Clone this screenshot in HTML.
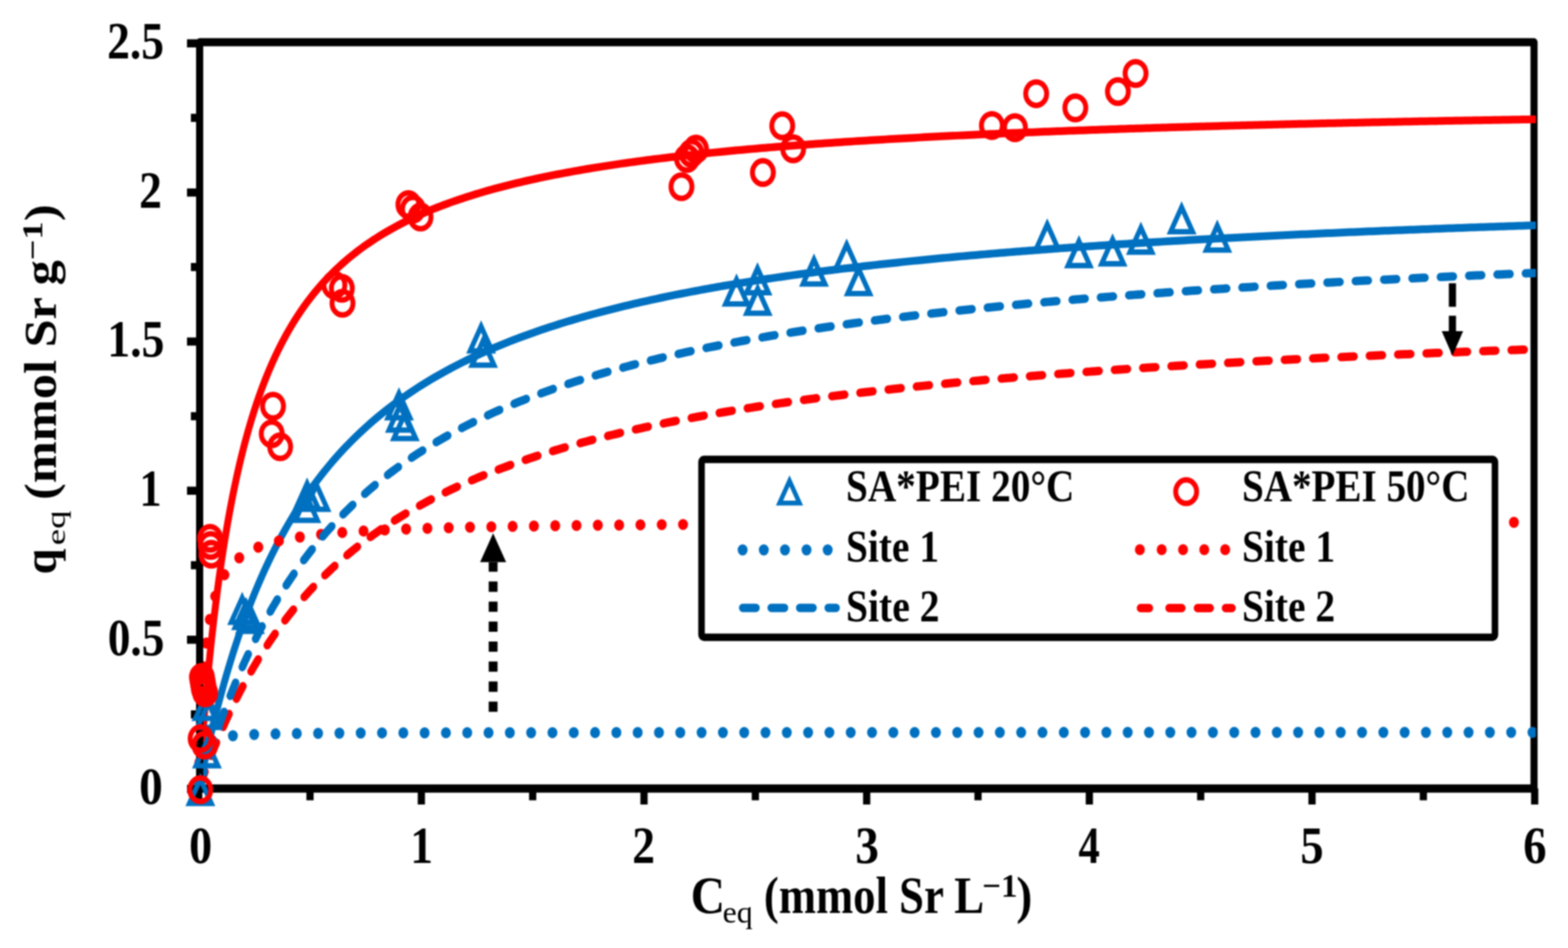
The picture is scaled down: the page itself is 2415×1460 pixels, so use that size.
<!DOCTYPE html>
<html><head><meta charset="utf-8"><title>Sr adsorption isotherm</title>
<style>html,body{margin:0;padding:0;background:#fff;overflow:hidden}svg{display:block;filter:blur(0.8px)}text{font-family:"Liberation Serif","Times New Roman",serif;fill:#000}</style></head><body>
<svg xmlns="http://www.w3.org/2000/svg" width="2415" height="1460" viewBox="0 0 2415 1460">
<rect x="0" y="0" width="2415" height="1460" fill="#fff"/>
<defs><clipPath id="pc"><rect x="0" y="0" width="2657.87" height="1460"/></clipPath></defs>
<g transform="scale(0.89,1)">
<path d="M345.51,65.00 L2654.72,65.00 L2654.72,1214.30 L345.51,1214.30 Z" fill="none" stroke="#000" stroke-width="12.3" stroke-linejoin="round"/>
<g clip-path="url(#pc)">
<path d="M 343.82,1215.00 344.01,1212.60 344.21,1210.18 344.40,1207.75 344.59,1205.33 344.78,1202.91 344.98,1200.49 345.17,1198.08 345.36,1195.68 345.55,1193.29 345.75,1190.91 345.94,1188.53 346.13,1186.16 346.32,1183.80 346.52,1181.45 346.71,1179.10 346.90,1176.77 347.10,1174.45 347.29,1172.13 347.48,1169.82 347.67,1167.53 347.87,1165.24 348.06,1162.96 348.25,1160.69 348.44,1158.42 348.64,1156.17 348.83,1153.93 349.02,1151.69 349.21,1149.47 349.41,1147.25 349.60,1145.04 349.79,1142.85 349.99,1140.66 350.18,1138.47 350.37,1136.30 350.56,1134.14 350.76,1131.99 350.95,1129.84 351.14,1127.70 351.33,1125.57 351.53,1123.45 352.30,1115.06 353.07,1106.80 353.84,1098.68 354.61,1090.68 355.38,1082.81 356.15,1075.07 356.92,1067.45 357.69,1059.95 358.46,1052.56 359.23,1045.29 360.00,1038.13 360.78,1031.08 361.55,1024.14 362.32,1017.31 363.09,1010.57 363.86,1003.94 364.63,997.41 365.40,990.97 366.17,984.63 366.94,978.38 367.71,972.22 368.48,966.15 369.25,960.16 370.02,954.27 370.79,948.45 371.56,942.72 372.34,937.06 373.11,931.49 373.88,925.99 374.65,920.56 375.42,915.21 376.19,909.94 376.96,904.73 377.73,899.59 378.50,894.52 379.27,889.52 380.04,884.58 380.81,879.71 381.58,874.90 382.35,870.15 383.12,865.47 383.90,860.84 384.67,856.27 385.44,851.76 386.21,847.30 386.98,842.90 387.75,838.56 388.52,834.27 389.29,830.03 390.06,825.84 390.83,821.70 391.60,817.61 392.37,813.57 393.14,809.58 393.91,805.63 394.68,801.73 395.46,797.88 396.23,794.07 397.00,790.31 397.77,786.59 398.54,782.91 399.31,779.27 400.08,775.67 400.85,772.12 401.62,768.60 402.39,765.12 403.16,761.68 403.93,758.28 404.70,754.91 405.47,751.59 406.24,748.29 407.02,745.04 407.79,741.82 408.56,738.63 409.33,735.47 410.10,732.35 410.87,729.26 411.64,726.21 412.41,723.18 413.18,720.19 413.95,717.23 414.72,714.30 415.49,711.39 416.26,708.52 417.03,705.68 417.80,702.86 418.58,700.07 419.35,697.31 420.12,694.58 420.89,691.87 421.66,689.19 422.43,686.54 423.20,683.91 423.97,681.31 424.74,678.73 425.51,676.18 426.28,673.65 427.05,671.14 427.82,668.66 428.59,666.20 429.37,663.77 430.14,661.36 430.91,658.97 431.68,656.60 432.45,654.25 433.22,651.93 433.99,649.62 434.76,647.34 435.53,645.08 436.30,642.83 437.07,640.61 437.84,638.41 438.61,636.22 439.38,634.06 440.15,631.91 440.93,629.79 441.70,627.68 442.47,625.59 443.24,623.52 444.01,621.46 444.78,619.43 445.55,617.41 446.32,615.41 447.09,613.42 447.86,611.45 448.63,609.50 449.40,607.57 450.17,605.65 450.94,603.74 451.71,601.85 452.49,599.98 453.26,598.12 454.03,596.28 454.80,594.45 455.57,592.64 456.34,590.84 457.11,589.06 457.88,587.29 458.65,585.54 459.42,583.79 464.93,571.75 470.43,560.34 475.94,549.53 481.44,539.27 486.95,529.52 492.45,520.24 497.96,511.40 503.46,502.97 508.96,494.92 514.47,487.22 519.97,479.86 525.48,472.81 530.98,466.05 536.49,459.56 541.99,453.34 547.50,447.35 553.00,441.60 558.51,436.06 564.01,430.73 569.52,425.59 575.02,420.64 580.53,415.85 586.03,411.23 591.54,406.77 597.04,402.46 602.55,398.29 608.05,394.25 613.56,390.34 619.06,386.55 624.57,382.88 630.07,379.32 635.58,375.87 641.08,372.52 646.59,369.26 652.09,366.10 657.59,363.02 663.10,360.04 668.60,357.13 674.11,354.30 679.61,351.55 685.12,348.87 690.62,346.26 696.13,343.72 701.63,341.24 707.14,338.83 712.64,336.47 718.15,334.17 723.65,331.93 729.16,329.74 734.66,327.60 740.17,325.51 745.67,323.47 751.18,321.47 756.68,319.52 762.19,317.62 767.69,315.75 773.20,313.93 778.70,312.15 784.21,310.40 789.71,308.69 795.22,307.02 800.72,305.38 806.22,303.77 811.73,302.20 817.23,300.66 822.74,299.15 828.24,297.67 833.75,296.22 839.25,294.79 844.76,293.39 850.26,292.02 855.77,290.68 861.27,289.36 866.78,288.06 872.28,286.79 877.79,285.54 883.29,284.32 888.80,283.11 894.30,281.93 899.81,280.76 905.31,279.62 910.82,278.50 916.32,277.39 921.83,276.31 927.33,275.24 932.84,274.19 938.34,273.16 943.85,272.14 949.35,271.14 954.85,270.16 960.36,269.19 965.86,268.24 971.37,267.30 976.87,266.38 982.38,265.47 987.88,264.58 993.39,263.70 998.89,262.83 1004.40,261.97 1009.90,261.13 1015.41,260.30 1020.91,259.48 1026.42,258.68 1031.92,257.89 1037.43,257.10 1042.93,256.33 1048.44,255.57 1053.94,254.82 1059.45,254.08 1064.95,253.35 1070.46,252.63 1075.96,251.92 1081.47,251.22 1086.97,250.53 1092.48,249.85 1097.98,249.18 1103.48,248.52 1108.99,247.86 1114.49,247.22 1120.00,246.58 1125.50,245.95 1131.01,245.33 1136.51,244.72 1142.02,244.11 1147.52,243.51 1153.03,242.92 1158.53,242.34 1164.04,241.76 1169.54,241.20 1175.05,240.63 1180.55,240.08 1186.06,239.53 1191.56,238.99 1197.07,238.45 1202.57,237.92 1208.08,237.40 1213.58,236.88 1219.09,236.37 1224.59,235.87 1230.10,235.37 1235.60,234.88 1241.11,234.39 1246.61,233.90 1252.11,233.43 1257.62,232.96 1263.12,232.49 1268.63,232.03 1274.13,231.57 1279.64,231.12 1285.14,230.67 1290.65,230.23 1296.15,229.80 1301.66,229.36 1307.16,228.94 1312.67,228.51 1318.17,228.10 1323.68,227.68 1329.18,227.27 1334.69,226.87 1340.19,226.46 1345.70,226.07 1351.20,225.67 1356.71,225.29 1362.21,224.90 1367.72,224.52 1373.22,224.14 1378.73,223.77 1384.23,223.40 1389.74,223.03 1395.24,222.67 1400.74,222.31 1406.25,221.95 1411.75,221.60 1417.26,221.25 1422.76,220.90 1428.27,220.56 1433.77,220.22 1439.28,219.89 1444.78,219.55 1450.29,219.22 1455.79,218.90 1461.30,218.57 1466.80,218.25 1472.31,217.94 1477.81,217.62 1483.32,217.31 1488.82,217.00 1494.33,216.69 1499.83,216.39 1505.34,216.09 1510.84,215.79 1516.35,215.50 1521.85,215.20 1527.36,214.91 1532.86,214.62 1538.37,214.34 1543.87,214.06 1549.37,213.78 1554.88,213.50 1560.38,213.22 1565.89,212.95 1571.39,212.68 1576.90,212.41 1582.40,212.14 1587.91,211.88 1593.41,211.62 1598.92,211.36 1604.42,211.10 1609.93,210.84 1615.43,210.59 1620.94,210.34 1626.44,210.09 1631.95,209.84 1637.45,209.60 1642.96,209.35 1648.46,209.11 1653.97,208.87 1659.47,208.63 1664.98,208.40 1670.48,208.17 1675.99,207.93 1681.49,207.70 1687.00,207.47 1692.50,207.25 1698.00,207.02 1703.51,206.80 1709.01,206.58 1714.52,206.36 1720.02,206.14 1725.53,205.92 1731.03,205.71 1736.54,205.50 1742.04,205.28 1747.55,205.07 1753.05,204.87 1758.56,204.66 1764.06,204.45 1769.57,204.25 1775.07,204.05 1780.58,203.85 1786.08,203.65 1791.59,203.45 1797.09,203.25 1802.60,203.06 1808.10,202.86 1813.61,202.67 1819.11,202.48 1824.62,202.29 1830.12,202.10 1835.63,201.92 1841.13,201.73 1846.63,201.55 1852.14,201.36 1857.64,201.18 1863.15,201.00 1868.65,200.82 1874.16,200.64 1879.66,200.47 1885.17,200.29 1890.67,200.12 1896.18,199.94 1901.68,199.77 1907.19,199.60 1912.69,199.43 1918.20,199.26 1923.70,199.10 1929.21,198.93 1934.71,198.76 1940.22,198.60 1945.72,198.44 1951.23,198.28 1956.73,198.11 1962.24,197.95 1967.74,197.80 1973.25,197.64 1978.75,197.48 1984.26,197.33 1989.76,197.17 1995.26,197.02 2000.77,196.86 2006.27,196.71 2011.78,196.56 2017.28,196.41 2022.79,196.26 2028.29,196.11 2033.80,195.97 2039.30,195.82 2044.81,195.68 2050.31,195.53 2055.82,195.39 2061.32,195.25 2066.83,195.10 2072.33,194.96 2077.84,194.82 2083.34,194.68 2088.85,194.55 2094.35,194.41 2099.86,194.27 2105.36,194.14 2110.87,194.00 2116.37,193.87 2121.88,193.73 2127.38,193.60 2132.89,193.47 2138.39,193.34 2143.89,193.21 2149.40,193.08 2154.90,192.95 2160.41,192.82 2165.91,192.69 2171.42,192.57 2176.92,192.44 2182.43,192.32 2187.93,192.19 2193.44,192.07 2198.94,191.95 2204.45,191.82 2209.95,191.70 2215.46,191.58 2220.96,191.46 2226.47,191.34 2231.97,191.22 2237.48,191.11 2242.98,190.99 2248.49,190.87 2253.99,190.76 2259.50,190.64 2265.00,190.52 2270.51,190.41 2276.01,190.30 2281.52,190.18 2287.02,190.07 2292.52,189.96 2298.03,189.85 2303.53,189.74 2309.04,189.63 2314.54,189.52 2320.05,189.41 2325.55,189.30 2331.06,189.19 2336.56,189.09 2342.07,188.98 2347.57,188.88 2353.08,188.77 2358.58,188.67 2364.09,188.56 2369.59,188.46 2375.10,188.35 2380.60,188.25 2386.11,188.15 2391.61,188.05 2397.12,187.95 2402.62,187.85 2408.13,187.75 2413.63,187.65 2419.14,187.55 2424.64,187.45 2430.15,187.35 2435.65,187.26 2441.15,187.16 2446.66,187.06 2452.16,186.97 2457.67,186.87 2463.17,186.78 2468.68,186.68 2474.18,186.59 2479.69,186.49 2485.19,186.40 2490.70,186.31 2496.20,186.22 2501.71,186.12 2507.21,186.03 2512.72,185.94 2518.22,185.85 2523.73,185.76 2529.23,185.67 2534.74,185.58 2540.24,185.50 2545.75,185.41 2551.25,185.32 2556.76,185.23 2562.26,185.15 2567.77,185.06 2573.27,184.97 2578.78,184.89 2584.28,184.80 2589.78,184.72 2595.29,184.63 2600.79,184.55 2606.30,184.47 2611.80,184.38 2617.31,184.30 2622.81,184.22 2628.32,184.14 2633.82,184.05 2639.33,183.97 2644.83,183.89 2650.34,183.81 2655.84,183.73" fill="none" stroke="#FF0000" stroke-width="12" stroke-linejoin="round" stroke-linecap="round"/>
<path d="M 343.82,1215.00 344.01,1214.27 344.21,1213.50 344.40,1212.73 344.59,1211.95 344.78,1211.16 344.98,1210.37 345.17,1209.58 345.36,1208.79 345.55,1208.00 345.75,1207.20 345.94,1206.40 346.13,1205.60 346.32,1204.81 346.52,1204.01 346.71,1203.21 346.90,1202.41 347.10,1201.61 347.29,1200.81 347.48,1200.01 347.67,1199.21 347.87,1198.41 348.06,1197.61 348.25,1196.81 348.44,1196.01 348.64,1195.22 348.83,1194.42 349.02,1193.62 349.21,1192.83 349.41,1192.03 349.60,1191.23 349.79,1190.44 349.99,1189.64 350.18,1188.85 350.37,1188.06 350.56,1187.27 350.76,1186.47 350.95,1185.68 351.14,1184.89 351.33,1184.10 351.53,1183.32 352.30,1180.17 353.07,1177.04 353.84,1173.92 354.61,1170.81 355.38,1167.72 356.15,1164.65 356.92,1161.59 357.69,1158.55 358.46,1155.52 359.23,1152.51 360.00,1149.51 360.78,1146.53 361.55,1143.57 362.32,1140.62 363.09,1137.69 363.86,1134.78 364.63,1131.88 365.40,1129.00 366.17,1126.14 366.94,1123.29 367.71,1120.46 368.48,1117.64 369.25,1114.84 370.02,1112.06 370.79,1109.29 371.56,1106.54 372.34,1103.80 373.11,1101.08 373.88,1098.38 374.65,1095.69 375.42,1093.01 376.19,1090.36 376.96,1087.71 377.73,1085.09 378.50,1082.48 379.27,1079.88 380.04,1077.30 380.81,1074.73 381.58,1072.18 382.35,1069.64 383.12,1067.12 383.90,1064.61 384.67,1062.12 385.44,1059.64 386.21,1057.17 386.98,1054.72 387.75,1052.29 388.52,1049.86 389.29,1047.45 390.06,1045.06 390.83,1042.68 391.60,1040.31 392.37,1037.96 393.14,1035.61 393.91,1033.29 394.68,1030.97 395.46,1028.67 396.23,1026.38 397.00,1024.11 397.77,1021.84 398.54,1019.59 399.31,1017.36 400.08,1015.13 400.85,1012.92 401.62,1010.72 402.39,1008.53 403.16,1006.36 403.93,1004.19 404.70,1002.04 405.47,999.90 406.24,997.77 407.02,995.66 407.79,993.55 408.56,991.46 409.33,989.38 410.10,987.31 410.87,985.25 411.64,983.20 412.41,981.16 413.18,979.14 413.95,977.12 414.72,975.12 415.49,973.13 416.26,971.15 417.03,969.17 417.80,967.21 418.58,965.26 419.35,963.32 420.12,961.39 420.89,959.47 421.66,957.56 422.43,955.67 423.20,953.78 423.97,951.90 424.74,950.03 425.51,948.17 426.28,946.32 427.05,944.48 427.82,942.65 428.59,940.83 429.37,939.01 430.14,937.21 430.91,935.42 431.68,933.64 432.45,931.86 433.22,930.10 433.99,928.34 434.76,926.59 435.53,924.85 436.30,923.12 437.07,921.40 437.84,919.69 438.61,917.99 439.38,916.29 440.15,914.61 440.93,912.93 441.70,911.26 442.47,909.60 443.24,907.95 444.01,906.30 444.78,904.66 445.55,903.04 446.32,901.42 447.09,899.80 447.86,898.20 448.63,896.60 449.40,895.02 450.17,893.43 450.94,891.86 451.71,890.30 452.49,888.74 453.26,887.19 454.03,885.65 454.80,884.11 455.57,882.58 456.34,881.06 457.11,879.55 457.88,878.04 458.65,876.55 459.42,875.05 464.93,864.61 470.43,854.50 475.94,844.73 481.44,835.27 486.95,826.11 492.45,817.23 497.96,808.63 503.46,800.29 508.96,792.20 514.47,784.35 519.97,776.72 525.48,769.32 530.98,762.12 536.49,755.13 541.99,748.33 547.50,741.72 553.00,735.28 558.51,729.01 564.01,722.91 569.52,716.97 575.02,711.18 580.53,705.54 586.03,700.03 591.54,694.67 597.04,689.43 602.55,684.32 608.05,679.33 613.56,674.47 619.06,669.71 624.57,665.06 630.07,660.52 635.58,656.09 641.08,651.75 646.59,647.51 652.09,643.36 657.59,639.30 663.10,635.32 668.60,631.44 674.11,627.63 679.61,623.90 685.12,620.25 690.62,616.67 696.13,613.17 701.63,609.74 707.14,606.37 712.64,603.07 718.15,599.83 723.65,596.66 729.16,593.55 734.66,590.49 740.17,587.49 745.67,584.55 751.18,581.66 756.68,578.83 762.19,576.04 767.69,573.31 773.20,570.63 778.70,567.99 784.21,565.40 789.71,562.85 795.22,560.34 800.72,557.88 806.22,555.46 811.73,553.09 817.23,550.75 822.74,548.45 828.24,546.18 833.75,543.96 839.25,541.77 844.76,539.61 850.26,537.49 855.77,535.40 861.27,533.35 866.78,531.32 872.28,529.33 877.79,527.37 883.29,525.43 888.80,523.53 894.30,521.66 899.81,519.81 905.31,517.99 910.82,516.20 916.32,514.43 921.83,512.69 927.33,510.97 932.84,509.28 938.34,507.61 943.85,505.96 949.35,504.34 954.85,502.74 960.36,501.16 965.86,499.61 971.37,498.07 976.87,496.56 982.38,495.06 987.88,493.59 993.39,492.13 998.89,490.70 1004.40,489.28 1009.90,487.88 1015.41,486.50 1020.91,485.13 1026.42,483.79 1031.92,482.46 1037.43,481.15 1042.93,479.85 1048.44,478.57 1053.94,477.31 1059.45,476.06 1064.95,474.83 1070.46,473.61 1075.96,472.40 1081.47,471.21 1086.97,470.04 1092.48,468.88 1097.98,467.73 1103.48,466.60 1108.99,465.47 1114.49,464.37 1120.00,463.27 1125.50,462.19 1131.01,461.12 1136.51,460.06 1142.02,459.01 1147.52,457.98 1153.03,456.95 1158.53,455.94 1164.04,454.94 1169.54,453.95 1175.05,452.97 1180.55,452.00 1186.06,451.05 1191.56,450.10 1197.07,449.16 1202.57,448.23 1208.08,447.31 1213.58,446.41 1219.09,445.51 1224.59,444.62 1230.10,443.74 1235.60,442.87 1241.11,442.00 1246.61,441.15 1252.11,440.30 1257.62,439.47 1263.12,438.64 1268.63,437.82 1274.13,437.01 1279.64,436.20 1285.14,435.41 1290.65,434.62 1296.15,433.84 1301.66,433.07 1307.16,432.30 1312.67,431.54 1318.17,430.79 1323.68,430.05 1329.18,429.31 1334.69,428.58 1340.19,427.86 1345.70,427.15 1351.20,426.44 1356.71,425.73 1362.21,425.04 1367.72,424.35 1373.22,423.66 1378.73,422.99 1384.23,422.32 1389.74,421.65 1395.24,420.99 1400.74,420.34 1406.25,419.69 1411.75,419.05 1417.26,418.41 1422.76,417.78 1428.27,417.16 1433.77,416.54 1439.28,415.92 1444.78,415.32 1450.29,414.71 1455.79,414.11 1461.30,413.52 1466.80,412.93 1472.31,412.35 1477.81,411.77 1483.32,411.20 1488.82,410.63 1494.33,410.06 1499.83,409.50 1505.34,408.95 1510.84,408.40 1516.35,407.85 1521.85,407.31 1527.36,406.78 1532.86,406.24 1538.37,405.71 1543.87,405.19 1549.37,404.67 1554.88,404.16 1560.38,403.64 1565.89,403.14 1571.39,402.63 1576.90,402.13 1582.40,401.64 1587.91,401.15 1593.41,400.66 1598.92,400.17 1604.42,399.69 1609.93,399.22 1615.43,398.74 1620.94,398.27 1626.44,397.81 1631.95,397.34 1637.45,396.88 1642.96,396.43 1648.46,395.98 1653.97,395.53 1659.47,395.08 1664.98,394.64 1670.48,394.20 1675.99,393.77 1681.49,393.33 1687.00,392.90 1692.50,392.48 1698.00,392.05 1703.51,391.63 1709.01,391.22 1714.52,390.80 1720.02,390.39 1725.53,389.98 1731.03,389.58 1736.54,389.17 1742.04,388.77 1747.55,388.38 1753.05,387.98 1758.56,387.59 1764.06,387.20 1769.57,386.82 1775.07,386.43 1780.58,386.05 1786.08,385.67 1791.59,385.30 1797.09,384.93 1802.60,384.56 1808.10,384.19 1813.61,383.82 1819.11,383.46 1824.62,383.10 1830.12,382.74 1835.63,382.38 1841.13,382.03 1846.63,381.68 1852.14,381.33 1857.64,380.98 1863.15,380.64 1868.65,380.30 1874.16,379.96 1879.66,379.62 1885.17,379.28 1890.67,378.95 1896.18,378.62 1901.68,378.29 1907.19,377.96 1912.69,377.64 1918.20,377.32 1923.70,377.00 1929.21,376.68 1934.71,376.36 1940.22,376.04 1945.72,375.73 1951.23,375.42 1956.73,375.11 1962.24,374.80 1967.74,374.50 1973.25,374.20 1978.75,373.89 1984.26,373.60 1989.76,373.30 1995.26,373.00 2000.77,372.71 2006.27,372.41 2011.78,372.12 2017.28,371.83 2022.79,371.55 2028.29,371.26 2033.80,370.98 2039.30,370.70 2044.81,370.42 2050.31,370.14 2055.82,369.86 2061.32,369.58 2066.83,369.31 2072.33,369.04 2077.84,368.77 2083.34,368.50 2088.85,368.23 2094.35,367.96 2099.86,367.70 2105.36,367.44 2110.87,367.18 2116.37,366.92 2121.88,366.66 2127.38,366.40 2132.89,366.14 2138.39,365.89 2143.89,365.64 2149.40,365.39 2154.90,365.14 2160.41,364.89 2165.91,364.64 2171.42,364.39 2176.92,364.15 2182.43,363.91 2187.93,363.66 2193.44,363.42 2198.94,363.18 2204.45,362.95 2209.95,362.71 2215.46,362.47 2220.96,362.24 2226.47,362.01 2231.97,361.78 2237.48,361.55 2242.98,361.32 2248.49,361.09 2253.99,360.86 2259.50,360.64 2265.00,360.41 2270.51,360.19 2276.01,359.97 2281.52,359.75 2287.02,359.53 2292.52,359.31 2298.03,359.09 2303.53,358.88 2309.04,358.66 2314.54,358.45 2320.05,358.23 2325.55,358.02 2331.06,357.81 2336.56,357.60 2342.07,357.39 2347.57,357.19 2353.08,356.98 2358.58,356.78 2364.09,356.57 2369.59,356.37 2375.10,356.17 2380.60,355.96 2386.11,355.76 2391.61,355.56 2397.12,355.37 2402.62,355.17 2408.13,354.97 2413.63,354.78 2419.14,354.58 2424.64,354.39 2430.15,354.20 2435.65,354.01 2441.15,353.82 2446.66,353.63 2452.16,353.44 2457.67,353.25 2463.17,353.06 2468.68,352.88 2474.18,352.69 2479.69,352.51 2485.19,352.32 2490.70,352.14 2496.20,351.96 2501.71,351.78 2507.21,351.60 2512.72,351.42 2518.22,351.24 2523.73,351.07 2529.23,350.89 2534.74,350.71 2540.24,350.54 2545.75,350.37 2551.25,350.19 2556.76,350.02 2562.26,349.85 2567.77,349.68 2573.27,349.51 2578.78,349.34 2584.28,349.17 2589.78,349.00 2595.29,348.84 2600.79,348.67 2606.30,348.50 2611.80,348.34 2617.31,348.18 2622.81,348.01 2628.32,347.85 2633.82,347.69 2639.33,347.53 2644.83,347.37 2650.34,347.21 2655.84,347.05" fill="none" stroke="#0070C0" stroke-width="12" stroke-linejoin="round" stroke-linecap="round"/>
<path d="M 343.82,1215.00 344.01,1208.02 344.21,1201.28 344.40,1194.75 344.59,1188.44 344.78,1182.32 344.98,1176.40 345.17,1170.65 345.36,1165.08 345.55,1159.68 345.75,1154.44 345.94,1149.34 346.13,1144.40 346.32,1139.59 346.52,1134.91 346.71,1130.36 346.90,1125.94 347.10,1121.63 347.29,1117.44 347.48,1113.35 347.67,1109.37 347.87,1105.49 348.06,1101.71 348.25,1098.02 348.44,1094.42 348.64,1090.91 348.83,1087.48 349.02,1084.13 349.21,1080.86 349.41,1077.66 349.60,1074.54 349.79,1071.48 349.99,1068.50 350.18,1065.58 350.37,1062.72 350.56,1059.92 350.76,1057.19 350.95,1054.51 351.14,1051.88 351.33,1049.32 351.53,1046.80 352.30,1037.22 353.07,1028.37 353.84,1020.16 354.61,1012.53 355.38,1005.41 356.15,998.76 356.92,992.53 357.69,986.68 358.46,981.19 359.23,976.01 360.00,971.12 360.78,966.50 361.55,962.12 362.32,957.98 363.09,954.04 363.86,950.30 364.63,946.73 365.40,943.34 366.17,940.10 366.94,937.01 367.71,934.05 368.48,931.22 369.25,928.51 370.02,925.91 370.79,923.41 371.56,921.01 372.34,918.71 373.11,916.50 373.88,914.36 374.65,912.31 375.42,910.33 376.19,908.42 376.96,906.57 377.73,904.79 378.50,903.07 379.27,901.41 380.04,899.80 380.81,898.24 381.58,896.73 382.35,895.27 383.12,893.85 383.90,892.47 384.67,891.14 385.44,889.84 386.21,888.58 386.98,887.36 387.75,886.17 388.52,885.01 389.29,883.89 390.06,882.79 390.83,881.73 391.60,880.69 392.37,879.68 393.14,878.70 393.91,877.74 394.68,876.80 395.46,875.89 396.23,874.99 397.00,874.12 397.77,873.28 398.54,872.45 399.31,871.64 400.08,870.84 400.85,870.07 401.62,869.31 402.39,868.57 403.16,867.85 403.93,867.14 404.70,866.45 405.47,865.77 406.24,865.11 407.02,864.45 407.79,863.82 408.56,863.19 409.33,862.58 410.10,861.98 410.87,861.39 411.64,860.82 412.41,860.25 413.18,859.70 413.95,859.16 414.72,858.62 415.49,858.10 416.26,857.58 417.03,857.08 417.80,856.58 418.58,856.10 419.35,855.62 420.12,855.15 420.89,854.69 421.66,854.24 422.43,853.79 423.20,853.35 423.97,852.92 424.74,852.50 425.51,852.08 426.28,851.67 427.05,851.27 427.82,850.87 428.59,850.48 429.37,850.10 430.14,849.72 430.91,849.35 431.68,848.99 432.45,848.63 433.22,848.27 433.99,847.92 434.76,847.58 435.53,847.24 436.30,846.90 437.07,846.58 437.84,846.25 438.61,845.93 439.38,845.62 440.15,845.31 440.93,845.00 441.70,844.70 442.47,844.40 443.24,844.11 444.01,843.82 444.78,843.53 445.55,843.25 446.32,842.98 447.09,842.70 447.86,842.43 448.63,842.17 449.40,841.90 450.17,841.64 450.94,841.39 451.71,841.13 452.49,840.88 453.26,840.64 454.03,840.39 454.80,840.15 455.57,839.92 456.34,839.68 457.11,839.45 457.88,839.22 458.65,839.00 459.42,838.77 464.93,837.26 470.43,835.86 475.94,834.57 481.44,833.38 486.95,832.27 492.45,831.24 497.96,830.28 503.46,829.38 508.96,828.53 514.47,827.74 519.97,826.99 525.48,826.29 530.98,825.62 536.49,824.99 541.99,824.40 547.50,823.83 553.00,823.29 558.51,822.78 564.01,822.30 569.52,821.83 575.02,821.39 580.53,820.97 586.03,820.56 591.54,820.17 597.04,819.80 602.55,819.44 608.05,819.10 613.56,818.77 619.06,818.46 624.57,818.15 630.07,817.86 635.58,817.58 641.08,817.31 646.59,817.04 652.09,816.79 657.59,816.54 663.10,816.31 668.60,816.08 674.11,815.86 679.61,815.64 685.12,815.43 690.62,815.23 696.13,815.04 701.63,814.85 707.14,814.66 712.64,814.48 718.15,814.31 723.65,814.14 729.16,813.98 734.66,813.82 740.17,813.66 745.67,813.51 751.18,813.36 756.68,813.22 762.19,813.08 767.69,812.94 773.20,812.81 778.70,812.68 784.21,812.56 789.71,812.43 795.22,812.31 800.72,812.19 806.22,812.08 811.73,811.97 817.23,811.86 822.74,811.75 828.24,811.65 833.75,811.54 839.25,811.44 844.76,811.35 850.26,811.25 855.77,811.16 861.27,811.06 866.78,810.97 872.28,810.88 877.79,810.80 883.29,810.71 888.80,810.63 894.30,810.55 899.81,810.47 905.31,810.39 910.82,810.31 916.32,810.24 921.83,810.16 927.33,810.09 932.84,810.02 938.34,809.95 943.85,809.88 949.35,809.81 954.85,809.75 960.36,809.68 965.86,809.62 971.37,809.56 976.87,809.49 982.38,809.43 987.88,809.37 993.39,809.31 998.89,809.26 1004.40,809.20 1009.90,809.14 1015.41,809.09 1020.91,809.04 1026.42,808.98 1031.92,808.93 1037.43,808.88 1042.93,808.83 1048.44,808.78 1053.94,808.73 1059.45,808.68 1064.95,808.63 1070.46,808.58 1075.96,808.54 1081.47,808.49 1086.97,808.45 1092.48,808.40 1097.98,808.36 1103.48,808.32 1108.99,808.27 1114.49,808.23 1120.00,808.19 1125.50,808.15 1131.01,808.11 1136.51,808.07 1142.02,808.03 1147.52,807.99 1153.03,807.95 1158.53,807.92 1164.04,807.88 1169.54,807.84 1175.05,807.81 1180.55,807.77 1186.06,807.74 1191.56,807.70 1197.07,807.67 1202.57,807.63 1208.08,807.60 1213.58,807.57 1219.09,807.53 1224.59,807.50 1230.10,807.47 1235.60,807.44 1241.11,807.41 1246.61,807.38 1252.11,807.35 1257.62,807.32 1263.12,807.29 1268.63,807.26 1274.13,807.23 1279.64,807.20 1285.14,807.17 1290.65,807.14 1296.15,807.12 1301.66,807.09 1307.16,807.06 1312.67,807.04 1318.17,807.01 1323.68,806.98 1329.18,806.96 1334.69,806.93 1340.19,806.91 1345.70,806.88 1351.20,806.86 1356.71,806.83 1362.21,806.81 1367.72,806.78 1373.22,806.76 1378.73,806.74 1384.23,806.71 1389.74,806.69 1395.24,806.67 1400.74,806.65 1406.25,806.62 1411.75,806.60 1417.26,806.58 1422.76,806.56 1428.27,806.54 1433.77,806.52 1439.28,806.50 1444.78,806.48 1450.29,806.45 1455.79,806.43 1461.30,806.41 1466.80,806.39 1472.31,806.38 1477.81,806.36 1483.32,806.34 1488.82,806.32 1494.33,806.30 1499.83,806.28 1505.34,806.26 1510.84,806.24 1516.35,806.22 1521.85,806.21 1527.36,806.19 1532.86,806.17 1538.37,806.15 1543.87,806.14 1549.37,806.12 1554.88,806.10 1560.38,806.08 1565.89,806.07 1571.39,806.05 1576.90,806.03 1582.40,806.02 1587.91,806.00 1593.41,805.99 1598.92,805.97 1604.42,805.95 1609.93,805.94 1615.43,805.92 1620.94,805.91 1626.44,805.89 1631.95,805.88 1637.45,805.86 1642.96,805.85 1648.46,805.83 1653.97,805.82 1659.47,805.80 1664.98,805.79 1670.48,805.77 1675.99,805.76 1681.49,805.75 1687.00,805.73 1692.50,805.72 1698.00,805.70 1703.51,805.69 1709.01,805.68 1714.52,805.66 1720.02,805.65 1725.53,805.64 1731.03,805.62 1736.54,805.61 1742.04,805.60 1747.55,805.59 1753.05,805.57 1758.56,805.56 1764.06,805.55 1769.57,805.54 1775.07,805.52 1780.58,805.51 1786.08,805.50 1791.59,805.49 1797.09,805.48 1802.60,805.46 1808.10,805.45 1813.61,805.44 1819.11,805.43 1824.62,805.42 1830.12,805.41 1835.63,805.39 1841.13,805.38 1846.63,805.37 1852.14,805.36 1857.64,805.35 1863.15,805.34 1868.65,805.33 1874.16,805.32 1879.66,805.31 1885.17,805.30 1890.67,805.29 1896.18,805.28 1901.68,805.27 1907.19,805.25 1912.69,805.24 1918.20,805.23 1923.70,805.22 1929.21,805.21 1934.71,805.20 1940.22,805.19 1945.72,805.18 1951.23,805.17 1956.73,805.17 1962.24,805.16 1967.74,805.15 1973.25,805.14 1978.75,805.13 1984.26,805.12 1989.76,805.11 1995.26,805.10 2000.77,805.09 2006.27,805.08 2011.78,805.07 2017.28,805.06 2022.79,805.05 2028.29,805.05 2033.80,805.04 2039.30,805.03 2044.81,805.02 2050.31,805.01 2055.82,805.00 2061.32,804.99 2066.83,804.98 2072.33,804.98 2077.84,804.97 2083.34,804.96 2088.85,804.95 2094.35,804.94 2099.86,804.93 2105.36,804.93 2110.87,804.92 2116.37,804.91 2121.88,804.90 2127.38,804.89 2132.89,804.89 2138.39,804.88 2143.89,804.87 2149.40,804.86 2154.90,804.86 2160.41,804.85 2165.91,804.84 2171.42,804.83 2176.92,804.83 2182.43,804.82 2187.93,804.81 2193.44,804.80 2198.94,804.80 2204.45,804.79 2209.95,804.78 2215.46,804.77 2220.96,804.77 2226.47,804.76 2231.97,804.75 2237.48,804.75 2242.98,804.74 2248.49,804.73 2253.99,804.72 2259.50,804.72 2265.00,804.71 2270.51,804.70 2276.01,804.70 2281.52,804.69 2287.02,804.68 2292.52,804.68 2298.03,804.67 2303.53,804.66 2309.04,804.66 2314.54,804.65 2320.05,804.64 2325.55,804.64 2331.06,804.63 2336.56,804.63 2342.07,804.62 2347.57,804.61 2353.08,804.61 2358.58,804.60 2364.09,804.59 2369.59,804.59 2375.10,804.58 2380.60,804.58 2386.11,804.57 2391.61,804.56 2397.12,804.56 2402.62,804.55 2408.13,804.55 2413.63,804.54 2419.14,804.53 2424.64,804.53 2430.15,804.52 2435.65,804.52 2441.15,804.51 2446.66,804.51 2452.16,804.50 2457.67,804.49 2463.17,804.49 2468.68,804.48 2474.18,804.48 2479.69,804.47 2485.19,804.47 2490.70,804.46 2496.20,804.46 2501.71,804.45 2507.21,804.44 2512.72,804.44 2518.22,804.43 2523.73,804.43 2529.23,804.42 2534.74,804.42 2540.24,804.41 2545.75,804.41 2551.25,804.40 2556.76,804.40 2562.26,804.39 2567.77,804.39 2573.27,804.38 2578.78,804.38 2584.28,804.37 2589.78,804.37 2595.29,804.36 2600.79,804.36 2606.30,804.35 2611.80,804.35 2617.31,804.34 2622.81,804.34 2628.32,804.33 2633.82,804.33 2639.33,804.32 2644.83,804.32 2650.34,804.31 2655.84,804.31" fill="none" stroke="#FF0000" stroke-width="17.2" stroke-dasharray="0.001 36.868" stroke-dashoffset="32.99" stroke-linecap="round" stroke-linejoin="round"/>
<path d="M 343.82,1215.00 344.01,1214.55 344.21,1214.09 344.40,1213.63 344.59,1213.16 344.78,1212.69 344.98,1212.22 345.17,1211.75 345.36,1211.28 345.55,1210.81 345.75,1210.34 345.94,1209.87 346.13,1209.39 346.32,1208.92 346.52,1208.45 346.71,1207.97 346.90,1207.50 347.10,1207.03 347.29,1206.56 347.48,1206.08 347.67,1205.61 347.87,1205.14 348.06,1204.67 348.25,1204.19 348.44,1203.72 348.64,1203.25 348.83,1202.78 349.02,1202.31 349.21,1201.84 349.41,1201.37 349.60,1200.89 349.79,1200.42 349.99,1199.95 350.18,1199.49 350.37,1199.02 350.56,1198.55 350.76,1198.08 350.95,1197.61 351.14,1197.14 351.33,1196.68 351.53,1196.21 352.30,1194.34 353.07,1192.48 353.84,1190.63 354.61,1188.79 355.38,1186.95 356.15,1185.12 356.92,1183.29 357.69,1181.47 358.46,1179.66 359.23,1177.86 360.00,1176.06 360.78,1174.27 361.55,1172.49 362.32,1170.72 363.09,1168.95 363.86,1167.19 364.63,1165.44 365.40,1163.70 366.17,1161.96 366.94,1160.23 367.71,1158.51 368.48,1156.79 369.25,1155.08 370.02,1153.38 370.79,1151.69 371.56,1150.00 372.34,1148.33 373.11,1146.66 373.88,1144.99 374.65,1143.33 375.42,1141.69 376.19,1140.04 376.96,1138.41 377.73,1136.78 378.50,1135.16 379.27,1133.54 380.04,1131.94 380.81,1130.34 381.58,1128.74 382.35,1127.16 383.12,1125.58 383.90,1124.01 384.67,1122.44 385.44,1120.88 386.21,1119.33 386.98,1117.78 387.75,1116.25 388.52,1114.71 389.29,1113.19 390.06,1111.67 390.83,1110.16 391.60,1108.65 392.37,1107.15 393.14,1105.66 393.91,1104.17 394.68,1102.69 395.46,1101.22 396.23,1099.75 397.00,1098.29 397.77,1096.84 398.54,1095.39 399.31,1093.94 400.08,1092.51 400.85,1091.08 401.62,1089.65 402.39,1088.24 403.16,1086.82 403.93,1085.42 404.70,1084.02 405.47,1082.62 406.24,1081.23 407.02,1079.85 407.79,1078.47 408.56,1077.10 409.33,1075.74 410.10,1074.38 410.87,1073.02 411.64,1071.68 412.41,1070.33 413.18,1069.00 413.95,1067.66 414.72,1066.34 415.49,1065.02 416.26,1063.70 417.03,1062.39 417.80,1061.09 418.58,1059.79 419.35,1058.50 420.12,1057.21 420.89,1055.92 421.66,1054.65 422.43,1053.37 423.20,1052.11 423.97,1050.84 424.74,1049.59 425.51,1048.33 426.28,1047.09 427.05,1045.85 427.82,1044.61 428.59,1043.38 429.37,1042.15 430.14,1040.93 430.91,1039.71 431.68,1038.50 432.45,1037.29 433.22,1036.09 433.99,1034.89 434.76,1033.70 435.53,1032.51 436.30,1031.33 437.07,1030.15 437.84,1028.97 438.61,1027.80 439.38,1026.64 440.15,1025.48 440.93,1024.32 441.70,1023.17 442.47,1022.02 443.24,1020.88 444.01,1019.74 444.78,1018.61 445.55,1017.48 446.32,1016.35 447.09,1015.23 447.86,1014.12 448.63,1013.01 449.40,1011.90 450.17,1010.80 450.94,1009.70 451.71,1008.60 452.49,1007.51 453.26,1006.42 454.03,1005.34 454.80,1004.26 455.57,1003.19 456.34,1002.12 457.11,1001.05 457.88,999.99 458.65,998.93 459.42,997.88 464.93,990.47 470.43,983.25 475.94,976.22 481.44,969.37 486.95,962.69 492.45,956.18 497.96,949.83 503.46,943.64 508.96,937.60 514.47,931.70 519.97,925.94 525.48,920.32 530.98,914.83 536.49,909.46 541.99,904.22 547.50,899.09 553.00,894.08 558.51,889.18 564.01,884.38 569.52,879.69 575.02,875.10 580.53,870.60 586.03,866.20 591.54,861.89 597.04,857.67 602.55,853.54 608.05,849.48 613.56,845.51 619.06,841.62 624.57,837.80 630.07,834.06 635.58,830.39 641.08,826.78 646.59,823.25 652.09,819.78 657.59,816.38 663.10,813.04 668.60,809.76 674.11,806.54 679.61,803.37 685.12,800.26 690.62,797.21 696.13,794.21 701.63,791.26 707.14,788.36 712.64,785.51 718.15,782.71 723.65,779.96 729.16,777.25 734.66,774.59 740.17,771.97 745.67,769.39 751.18,766.85 756.68,764.36 762.19,761.90 767.69,759.48 773.20,757.10 778.70,754.76 784.21,752.45 789.71,750.18 795.22,747.94 800.72,745.73 806.22,743.56 811.73,741.42 817.23,739.31 822.74,737.24 828.24,735.19 833.75,733.17 839.25,731.18 844.76,729.22 850.26,727.29 855.77,725.38 861.27,723.50 866.78,721.64 872.28,719.82 877.79,718.01 883.29,716.23 888.80,714.48 894.30,712.74 899.81,711.03 905.31,709.35 910.82,707.68 916.32,706.04 921.83,704.42 927.33,702.82 932.84,701.24 938.34,699.68 943.85,698.13 949.35,696.61 954.85,695.11 960.36,693.63 965.86,692.16 971.37,690.71 976.87,689.28 982.38,687.87 987.88,686.47 993.39,685.09 998.89,683.73 1004.40,682.38 1009.90,681.05 1015.41,679.74 1020.91,678.44 1026.42,677.15 1031.92,675.88 1037.43,674.62 1042.93,673.38 1048.44,672.15 1053.94,670.94 1059.45,669.74 1064.95,668.55 1070.46,667.38 1075.96,666.22 1081.47,665.07 1086.97,663.93 1092.48,662.81 1097.98,661.69 1103.48,660.59 1108.99,659.51 1114.49,658.43 1120.00,657.36 1125.50,656.31 1131.01,655.27 1136.51,654.23 1142.02,653.21 1147.52,652.20 1153.03,651.20 1158.53,650.21 1164.04,649.23 1169.54,648.26 1175.05,647.30 1180.55,646.34 1186.06,645.40 1191.56,644.47 1197.07,643.54 1202.57,642.63 1208.08,641.72 1213.58,640.83 1219.09,639.94 1224.59,639.06 1230.10,638.19 1235.60,637.32 1241.11,636.47 1246.61,635.62 1252.11,634.78 1257.62,633.95 1263.12,633.12 1268.63,632.31 1274.13,631.50 1279.64,630.70 1285.14,629.90 1290.65,629.12 1296.15,628.34 1301.66,627.57 1307.16,626.80 1312.67,626.04 1318.17,625.29 1323.68,624.54 1329.18,623.80 1334.69,623.07 1340.19,622.35 1345.70,621.63 1351.20,620.91 1356.71,620.20 1362.21,619.50 1367.72,618.81 1373.22,618.12 1378.73,617.43 1384.23,616.76 1389.74,616.08 1395.24,615.42 1400.74,614.76 1406.25,614.10 1411.75,613.45 1417.26,612.80 1422.76,612.17 1428.27,611.53 1433.77,610.90 1439.28,610.28 1444.78,609.66 1450.29,609.04 1455.79,608.44 1461.30,607.83 1466.80,607.23 1472.31,606.64 1477.81,606.05 1483.32,605.46 1488.82,604.88 1494.33,604.30 1499.83,603.73 1505.34,603.16 1510.84,602.60 1516.35,602.04 1521.85,601.49 1527.36,600.94 1532.86,600.39 1538.37,599.85 1543.87,599.31 1549.37,598.78 1554.88,598.25 1560.38,597.72 1565.89,597.20 1571.39,596.68 1576.90,596.17 1582.40,595.65 1587.91,595.15 1593.41,594.64 1598.92,594.14 1604.42,593.65 1609.93,593.16 1615.43,592.67 1620.94,592.18 1626.44,591.70 1631.95,591.22 1637.45,590.75 1642.96,590.27 1648.46,589.81 1653.97,589.34 1659.47,588.88 1664.98,588.42 1670.48,587.96 1675.99,587.51 1681.49,587.06 1687.00,586.62 1692.50,586.17 1698.00,585.73 1703.51,585.30 1709.01,584.86 1714.52,584.43 1720.02,584.00 1725.53,583.58 1731.03,583.15 1736.54,582.73 1742.04,582.32 1747.55,581.90 1753.05,581.49 1758.56,581.08 1764.06,580.68 1769.57,580.27 1775.07,579.87 1780.58,579.47 1786.08,579.08 1791.59,578.68 1797.09,578.29 1802.60,577.90 1808.10,577.52 1813.61,577.14 1819.11,576.76 1824.62,576.38 1830.12,576.00 1835.63,575.63 1841.13,575.26 1846.63,574.89 1852.14,574.52 1857.64,574.16 1863.15,573.79 1868.65,573.43 1874.16,573.08 1879.66,572.72 1885.17,572.37 1890.67,572.02 1896.18,571.67 1901.68,571.32 1907.19,570.97 1912.69,570.63 1918.20,570.29 1923.70,569.95 1929.21,569.62 1934.71,569.28 1940.22,568.95 1945.72,568.62 1951.23,568.29 1956.73,567.96 1962.24,567.64 1967.74,567.31 1973.25,566.99 1978.75,566.67 1984.26,566.36 1989.76,566.04 1995.26,565.73 2000.77,565.42 2006.27,565.11 2011.78,564.80 2017.28,564.49 2022.79,564.19 2028.29,563.88 2033.80,563.58 2039.30,563.28 2044.81,562.98 2050.31,562.69 2055.82,562.39 2061.32,562.10 2066.83,561.81 2072.33,561.52 2077.84,561.23 2083.34,560.94 2088.85,560.66 2094.35,560.37 2099.86,560.09 2105.36,559.81 2110.87,559.53 2116.37,559.26 2121.88,558.98 2127.38,558.71 2132.89,558.43 2138.39,558.16 2143.89,557.89 2149.40,557.62 2154.90,557.36 2160.41,557.09 2165.91,556.83 2171.42,556.56 2176.92,556.30 2182.43,556.04 2187.93,555.78 2193.44,555.53 2198.94,555.27 2204.45,555.01 2209.95,554.76 2215.46,554.51 2220.96,554.26 2226.47,554.01 2231.97,553.76 2237.48,553.51 2242.98,553.27 2248.49,553.02 2253.99,552.78 2259.50,552.54 2265.00,552.30 2270.51,552.06 2276.01,551.82 2281.52,551.58 2287.02,551.35 2292.52,551.11 2298.03,550.88 2303.53,550.65 2309.04,550.42 2314.54,550.19 2320.05,549.96 2325.55,549.73 2331.06,549.50 2336.56,549.28 2342.07,549.05 2347.57,548.83 2353.08,548.61 2358.58,548.38 2364.09,548.16 2369.59,547.95 2375.10,547.73 2380.60,547.51 2386.11,547.29 2391.61,547.08 2397.12,546.87 2402.62,546.65 2408.13,546.44 2413.63,546.23 2419.14,546.02 2424.64,545.81 2430.15,545.60 2435.65,545.40 2441.15,545.19 2446.66,544.99 2452.16,544.78 2457.67,544.58 2463.17,544.38 2468.68,544.17 2474.18,543.97 2479.69,543.78 2485.19,543.58 2490.70,543.38 2496.20,543.18 2501.71,542.99 2507.21,542.79 2512.72,542.60 2518.22,542.41 2523.73,542.21 2529.23,542.02 2534.74,541.83 2540.24,541.64 2545.75,541.45 2551.25,541.26 2556.76,541.08 2562.26,540.89 2567.77,540.71 2573.27,540.52 2578.78,540.34 2584.28,540.15 2589.78,539.97 2595.29,539.79 2600.79,539.61 2606.30,539.43 2611.80,539.25 2617.31,539.07 2622.81,538.90 2628.32,538.72 2633.82,538.54 2639.33,538.37 2644.83,538.19 2650.34,538.02 2655.84,537.85" fill="none" stroke="#FF0000" stroke-width="13" stroke-dasharray="22.4 26.69" stroke-dashoffset="42.82" stroke-linecap="round" stroke-linejoin="round"/>
<path d="M 343.82,1215.00 344.01,1210.84 344.21,1207.07 344.40,1203.62 344.59,1200.46 344.78,1197.55 344.98,1194.86 345.17,1192.38 345.36,1190.07 345.55,1187.92 345.75,1185.91 345.94,1184.03 346.13,1182.27 346.32,1180.62 346.52,1179.07 346.71,1177.60 346.90,1176.21 347.10,1174.90 347.29,1173.66 347.48,1172.49 347.67,1171.37 347.87,1170.30 348.06,1169.29 348.25,1168.32 348.44,1167.40 348.64,1166.52 348.83,1165.68 349.02,1164.87 349.21,1164.09 349.41,1163.35 349.60,1162.64 349.79,1161.96 349.99,1161.30 350.18,1160.66 350.37,1160.05 350.56,1159.47 350.76,1158.90 350.95,1158.35 351.14,1157.83 351.33,1157.32 351.53,1156.82 352.30,1155.00 353.07,1153.40 353.84,1151.97 354.61,1150.70 355.38,1149.55 356.15,1148.51 356.92,1147.57 357.69,1146.70 358.46,1145.91 359.23,1145.19 360.00,1144.52 360.78,1143.89 361.55,1143.32 362.32,1142.78 363.09,1142.28 363.86,1141.81 364.63,1141.37 365.40,1140.96 366.17,1140.57 366.94,1140.20 367.71,1139.85 368.48,1139.53 369.25,1139.22 370.02,1138.92 370.79,1138.64 371.56,1138.38 372.34,1138.12 373.11,1137.88 373.88,1137.65 374.65,1137.43 375.42,1137.22 376.19,1137.02 376.96,1136.82 377.73,1136.64 378.50,1136.46 379.27,1136.29 380.04,1136.12 380.81,1135.97 381.58,1135.81 382.35,1135.67 383.12,1135.52 383.90,1135.39 384.67,1135.26 385.44,1135.13 386.21,1135.01 386.98,1134.89 387.75,1134.77 388.52,1134.66 389.29,1134.55 390.06,1134.45 390.83,1134.34 391.60,1134.25 392.37,1134.15 393.14,1134.06 393.91,1133.97 394.68,1133.88 395.46,1133.79 396.23,1133.71 397.00,1133.63 397.77,1133.55 398.54,1133.47 399.31,1133.40 400.08,1133.33 400.85,1133.26 401.62,1133.19 402.39,1133.12 403.16,1133.05 403.93,1132.99 404.70,1132.93 405.47,1132.87 406.24,1132.81 407.02,1132.75 407.79,1132.69 408.56,1132.64 409.33,1132.58 410.10,1132.53 410.87,1132.48 411.64,1132.42 412.41,1132.37 413.18,1132.33 413.95,1132.28 414.72,1132.23 415.49,1132.19 416.26,1132.14 417.03,1132.10 417.80,1132.05 418.58,1132.01 419.35,1131.97 420.12,1131.93 420.89,1131.89 421.66,1131.85 422.43,1131.81 423.20,1131.77 423.97,1131.74 424.74,1131.70 425.51,1131.66 426.28,1131.63 427.05,1131.59 427.82,1131.56 428.59,1131.53 429.37,1131.49 430.14,1131.46 430.91,1131.43 431.68,1131.40 432.45,1131.37 433.22,1131.34 433.99,1131.31 434.76,1131.28 435.53,1131.25 436.30,1131.22 437.07,1131.20 437.84,1131.17 438.61,1131.14 439.38,1131.12 440.15,1131.09 440.93,1131.06 441.70,1131.04 442.47,1131.01 443.24,1130.99 444.01,1130.97 444.78,1130.94 445.55,1130.92 446.32,1130.89 447.09,1130.87 447.86,1130.85 448.63,1130.83 449.40,1130.81 450.17,1130.78 450.94,1130.76 451.71,1130.74 452.49,1130.72 453.26,1130.70 454.03,1130.68 454.80,1130.66 455.57,1130.64 456.34,1130.62 457.11,1130.60 457.88,1130.58 458.65,1130.57 459.42,1130.55 464.93,1130.42 470.43,1130.31 475.94,1130.21 481.44,1130.11 486.95,1130.02 492.45,1129.94 497.96,1129.86 503.46,1129.79 508.96,1129.72 514.47,1129.66 519.97,1129.60 525.48,1129.55 530.98,1129.49 536.49,1129.44 541.99,1129.40 547.50,1129.35 553.00,1129.31 558.51,1129.27 564.01,1129.23 569.52,1129.20 575.02,1129.16 580.53,1129.13 586.03,1129.10 591.54,1129.07 597.04,1129.04 602.55,1129.01 608.05,1128.99 613.56,1128.96 619.06,1128.94 624.57,1128.91 630.07,1128.89 635.58,1128.87 641.08,1128.85 646.59,1128.83 652.09,1128.81 657.59,1128.79 663.10,1128.77 668.60,1128.76 674.11,1128.74 679.61,1128.72 685.12,1128.71 690.62,1128.69 696.13,1128.68 701.63,1128.66 707.14,1128.65 712.64,1128.64 718.15,1128.62 723.65,1128.61 729.16,1128.60 734.66,1128.58 740.17,1128.57 745.67,1128.56 751.18,1128.55 756.68,1128.54 762.19,1128.53 767.69,1128.52 773.20,1128.51 778.70,1128.50 784.21,1128.49 789.71,1128.48 795.22,1128.47 800.72,1128.46 806.22,1128.45 811.73,1128.45 817.23,1128.44 822.74,1128.43 828.24,1128.42 833.75,1128.41 839.25,1128.41 844.76,1128.40 850.26,1128.39 855.77,1128.38 861.27,1128.38 866.78,1128.37 872.28,1128.36 877.79,1128.36 883.29,1128.35 888.80,1128.35 894.30,1128.34 899.81,1128.33 905.31,1128.33 910.82,1128.32 916.32,1128.32 921.83,1128.31 927.33,1128.31 932.84,1128.30 938.34,1128.29 943.85,1128.29 949.35,1128.28 954.85,1128.28 960.36,1128.28 965.86,1128.27 971.37,1128.27 976.87,1128.26 982.38,1128.26 987.88,1128.25 993.39,1128.25 998.89,1128.24 1004.40,1128.24 1009.90,1128.23 1015.41,1128.23 1020.91,1128.23 1026.42,1128.22 1031.92,1128.22 1037.43,1128.22 1042.93,1128.21 1048.44,1128.21 1053.94,1128.20 1059.45,1128.20 1064.95,1128.20 1070.46,1128.19 1075.96,1128.19 1081.47,1128.19 1086.97,1128.18 1092.48,1128.18 1097.98,1128.18 1103.48,1128.17 1108.99,1128.17 1114.49,1128.17 1120.00,1128.16 1125.50,1128.16 1131.01,1128.16 1136.51,1128.16 1142.02,1128.15 1147.52,1128.15 1153.03,1128.15 1158.53,1128.14 1164.04,1128.14 1169.54,1128.14 1175.05,1128.14 1180.55,1128.13 1186.06,1128.13 1191.56,1128.13 1197.07,1128.13 1202.57,1128.12 1208.08,1128.12 1213.58,1128.12 1219.09,1128.12 1224.59,1128.11 1230.10,1128.11 1235.60,1128.11 1241.11,1128.11 1246.61,1128.10 1252.11,1128.10 1257.62,1128.10 1263.12,1128.10 1268.63,1128.10 1274.13,1128.09 1279.64,1128.09 1285.14,1128.09 1290.65,1128.09 1296.15,1128.08 1301.66,1128.08 1307.16,1128.08 1312.67,1128.08 1318.17,1128.08 1323.68,1128.07 1329.18,1128.07 1334.69,1128.07 1340.19,1128.07 1345.70,1128.07 1351.20,1128.07 1356.71,1128.06 1362.21,1128.06 1367.72,1128.06 1373.22,1128.06 1378.73,1128.06 1384.23,1128.06 1389.74,1128.05 1395.24,1128.05 1400.74,1128.05 1406.25,1128.05 1411.75,1128.05 1417.26,1128.05 1422.76,1128.04 1428.27,1128.04 1433.77,1128.04 1439.28,1128.04 1444.78,1128.04 1450.29,1128.04 1455.79,1128.03 1461.30,1128.03 1466.80,1128.03 1472.31,1128.03 1477.81,1128.03 1483.32,1128.03 1488.82,1128.03 1494.33,1128.02 1499.83,1128.02 1505.34,1128.02 1510.84,1128.02 1516.35,1128.02 1521.85,1128.02 1527.36,1128.02 1532.86,1128.01 1538.37,1128.01 1543.87,1128.01 1549.37,1128.01 1554.88,1128.01 1560.38,1128.01 1565.89,1128.01 1571.39,1128.01 1576.90,1128.00 1582.40,1128.00 1587.91,1128.00 1593.41,1128.00 1598.92,1128.00 1604.42,1128.00 1609.93,1128.00 1615.43,1128.00 1620.94,1128.00 1626.44,1127.99 1631.95,1127.99 1637.45,1127.99 1642.96,1127.99 1648.46,1127.99 1653.97,1127.99 1659.47,1127.99 1664.98,1127.99 1670.48,1127.99 1675.99,1127.98 1681.49,1127.98 1687.00,1127.98 1692.50,1127.98 1698.00,1127.98 1703.51,1127.98 1709.01,1127.98 1714.52,1127.98 1720.02,1127.98 1725.53,1127.98 1731.03,1127.97 1736.54,1127.97 1742.04,1127.97 1747.55,1127.97 1753.05,1127.97 1758.56,1127.97 1764.06,1127.97 1769.57,1127.97 1775.07,1127.97 1780.58,1127.97 1786.08,1127.97 1791.59,1127.96 1797.09,1127.96 1802.60,1127.96 1808.10,1127.96 1813.61,1127.96 1819.11,1127.96 1824.62,1127.96 1830.12,1127.96 1835.63,1127.96 1841.13,1127.96 1846.63,1127.96 1852.14,1127.96 1857.64,1127.95 1863.15,1127.95 1868.65,1127.95 1874.16,1127.95 1879.66,1127.95 1885.17,1127.95 1890.67,1127.95 1896.18,1127.95 1901.68,1127.95 1907.19,1127.95 1912.69,1127.95 1918.20,1127.95 1923.70,1127.95 1929.21,1127.94 1934.71,1127.94 1940.22,1127.94 1945.72,1127.94 1951.23,1127.94 1956.73,1127.94 1962.24,1127.94 1967.74,1127.94 1973.25,1127.94 1978.75,1127.94 1984.26,1127.94 1989.76,1127.94 1995.26,1127.94 2000.77,1127.94 2006.27,1127.93 2011.78,1127.93 2017.28,1127.93 2022.79,1127.93 2028.29,1127.93 2033.80,1127.93 2039.30,1127.93 2044.81,1127.93 2050.31,1127.93 2055.82,1127.93 2061.32,1127.93 2066.83,1127.93 2072.33,1127.93 2077.84,1127.93 2083.34,1127.93 2088.85,1127.93 2094.35,1127.92 2099.86,1127.92 2105.36,1127.92 2110.87,1127.92 2116.37,1127.92 2121.88,1127.92 2127.38,1127.92 2132.89,1127.92 2138.39,1127.92 2143.89,1127.92 2149.40,1127.92 2154.90,1127.92 2160.41,1127.92 2165.91,1127.92 2171.42,1127.92 2176.92,1127.92 2182.43,1127.92 2187.93,1127.91 2193.44,1127.91 2198.94,1127.91 2204.45,1127.91 2209.95,1127.91 2215.46,1127.91 2220.96,1127.91 2226.47,1127.91 2231.97,1127.91 2237.48,1127.91 2242.98,1127.91 2248.49,1127.91 2253.99,1127.91 2259.50,1127.91 2265.00,1127.91 2270.51,1127.91 2276.01,1127.91 2281.52,1127.91 2287.02,1127.91 2292.52,1127.91 2298.03,1127.90 2303.53,1127.90 2309.04,1127.90 2314.54,1127.90 2320.05,1127.90 2325.55,1127.90 2331.06,1127.90 2336.56,1127.90 2342.07,1127.90 2347.57,1127.90 2353.08,1127.90 2358.58,1127.90 2364.09,1127.90 2369.59,1127.90 2375.10,1127.90 2380.60,1127.90 2386.11,1127.90 2391.61,1127.90 2397.12,1127.90 2402.62,1127.90 2408.13,1127.90 2413.63,1127.90 2419.14,1127.89 2424.64,1127.89 2430.15,1127.89 2435.65,1127.89 2441.15,1127.89 2446.66,1127.89 2452.16,1127.89 2457.67,1127.89 2463.17,1127.89 2468.68,1127.89 2474.18,1127.89 2479.69,1127.89 2485.19,1127.89 2490.70,1127.89 2496.20,1127.89 2501.71,1127.89 2507.21,1127.89 2512.72,1127.89 2518.22,1127.89 2523.73,1127.89 2529.23,1127.89 2534.74,1127.89 2540.24,1127.89 2545.75,1127.89 2551.25,1127.89 2556.76,1127.88 2562.26,1127.88 2567.77,1127.88 2573.27,1127.88 2578.78,1127.88 2584.28,1127.88 2589.78,1127.88 2595.29,1127.88 2600.79,1127.88 2606.30,1127.88 2611.80,1127.88 2617.31,1127.88 2622.81,1127.88 2628.32,1127.88 2633.82,1127.88 2639.33,1127.88 2644.83,1127.88 2650.34,1127.88 2655.84,1127.88" fill="none" stroke="#0070C0" stroke-width="17.2" stroke-dasharray="0.001 36.868" stroke-dashoffset="28.26" stroke-linecap="round" stroke-linejoin="round"/>
<path d="M 343.82,1215.00 344.01,1214.47 344.21,1213.93 344.40,1213.38 344.59,1212.83 344.78,1212.27 344.98,1211.71 345.17,1211.15 345.36,1210.59 345.55,1210.03 345.75,1209.46 345.94,1208.90 346.13,1208.34 346.32,1207.77 346.52,1207.21 346.71,1206.64 346.90,1206.08 347.10,1205.51 347.29,1204.95 347.48,1204.38 347.67,1203.82 347.87,1203.25 348.06,1202.69 348.25,1202.12 348.44,1201.56 348.64,1200.99 348.83,1200.43 349.02,1199.86 349.21,1199.30 349.41,1198.73 349.60,1198.17 349.79,1197.61 349.99,1197.04 350.18,1196.48 350.37,1195.92 350.56,1195.36 350.76,1194.80 350.95,1194.24 351.14,1193.67 351.33,1193.11 351.53,1192.55 352.30,1190.32 353.07,1188.09 353.84,1185.86 354.61,1183.65 355.38,1181.44 356.15,1179.24 356.92,1177.05 357.69,1174.87 358.46,1172.69 359.23,1170.53 360.00,1168.37 360.78,1166.22 361.55,1164.08 362.32,1161.95 363.09,1159.82 363.86,1157.71 364.63,1155.61 365.40,1153.51 366.17,1151.42 366.94,1149.34 367.71,1147.27 368.48,1145.21 369.25,1143.16 370.02,1141.12 370.79,1139.08 371.56,1137.06 372.34,1135.04 373.11,1133.03 373.88,1131.03 374.65,1129.04 375.42,1127.06 376.19,1125.09 376.96,1123.12 377.73,1121.17 378.50,1119.22 379.27,1117.28 380.04,1115.35 380.81,1113.43 381.58,1111.52 382.35,1109.61 383.12,1107.72 383.90,1105.83 384.67,1103.95 385.44,1102.08 386.21,1100.22 386.98,1098.36 387.75,1096.51 388.52,1094.67 389.29,1092.84 390.06,1091.02 390.83,1089.21 391.60,1087.40 392.37,1085.60 393.14,1083.81 393.91,1082.03 394.68,1080.25 395.46,1078.48 396.23,1076.72 397.00,1074.97 397.77,1073.23 398.54,1071.49 399.31,1069.76 400.08,1068.04 400.85,1066.33 401.62,1064.62 402.39,1062.92 403.16,1061.23 403.93,1059.54 404.70,1057.86 405.47,1056.19 406.24,1054.53 407.02,1052.87 407.79,1051.22 408.56,1049.58 409.33,1047.95 410.10,1046.32 410.87,1044.70 411.64,1043.08 412.41,1041.48 413.18,1039.88 413.95,1038.28 414.72,1036.69 415.49,1035.11 416.26,1033.54 417.03,1031.97 417.80,1030.41 418.58,1028.86 419.35,1027.31 420.12,1025.77 420.89,1024.24 421.66,1022.71 422.43,1021.19 423.20,1019.67 423.97,1018.16 424.74,1016.66 425.51,1015.16 426.28,1013.67 427.05,1012.19 427.82,1010.71 428.59,1009.24 429.37,1007.77 430.14,1006.31 430.91,1004.86 431.68,1003.41 432.45,1001.97 433.22,1000.53 433.99,999.10 434.76,997.68 435.53,996.26 436.30,994.84 437.07,993.44 437.84,992.04 438.61,990.64 439.38,989.25 440.15,987.87 440.93,986.49 441.70,985.11 442.47,983.74 443.24,982.38 444.01,981.02 444.78,979.67 445.55,978.33 446.32,976.98 447.09,975.65 447.86,974.32 448.63,972.99 449.40,971.67 450.17,970.36 450.94,969.05 451.71,967.74 452.49,966.44 453.26,965.15 454.03,963.86 454.80,962.58 455.57,961.30 456.34,960.02 457.11,958.75 457.88,957.49 458.65,956.23 459.42,954.97 464.93,946.15 470.43,937.57 475.94,929.21 481.44,921.07 486.95,913.14 492.45,905.42 497.96,897.89 503.46,890.55 508.96,883.40 514.47,876.41 519.97,869.60 525.48,862.95 530.98,856.46 536.49,850.12 541.99,843.93 547.50,837.88 553.00,831.97 558.51,826.19 564.01,820.54 569.52,815.02 575.02,809.61 580.53,804.33 586.03,799.15 591.54,794.08 597.04,789.12 602.55,784.27 608.05,779.51 613.56,774.85 619.06,770.28 624.57,765.81 630.07,761.42 635.58,757.12 641.08,752.90 646.59,748.76 652.09,744.70 657.59,740.72 663.10,736.81 668.60,732.98 674.11,729.21 679.61,725.52 685.12,721.89 690.62,718.32 696.13,714.82 701.63,711.38 707.14,708.00 712.64,704.68 718.15,701.42 723.65,698.21 729.16,695.06 734.66,691.96 740.17,688.91 745.67,685.91 751.18,682.95 756.68,680.05 762.19,677.20 767.69,674.38 773.20,671.62 778.70,668.90 784.21,666.22 789.71,663.58 795.22,660.98 800.72,658.42 806.22,655.90 811.73,653.42 817.23,650.97 822.74,648.57 828.24,646.19 833.75,643.85 839.25,641.55 844.76,639.28 850.26,637.04 855.77,634.83 861.27,632.66 866.78,630.51 872.28,628.40 877.79,626.31 883.29,624.25 888.80,622.22 894.30,620.22 899.81,618.24 905.31,616.30 910.82,614.37 916.32,612.48 921.83,610.60 927.33,608.76 932.84,606.93 938.34,605.13 943.85,603.35 949.35,601.60 954.85,599.86 960.36,598.15 965.86,596.46 971.37,594.79 976.87,593.15 982.38,591.52 987.88,589.91 993.39,588.32 998.89,586.75 1004.40,585.20 1009.90,583.67 1015.41,582.15 1020.91,580.66 1026.42,579.18 1031.92,577.72 1037.43,576.27 1042.93,574.84 1048.44,573.43 1053.94,572.04 1059.45,570.66 1064.95,569.29 1070.46,567.94 1075.96,566.61 1081.47,565.29 1086.97,563.98 1092.48,562.69 1097.98,561.41 1103.48,560.15 1108.99,558.90 1114.49,557.67 1120.00,556.44 1125.50,555.23 1131.01,554.04 1136.51,552.85 1142.02,551.68 1147.52,550.52 1153.03,549.37 1158.53,548.24 1164.04,547.11 1169.54,546.00 1175.05,544.90 1180.55,543.81 1186.06,542.73 1191.56,541.66 1197.07,540.60 1202.57,539.55 1208.08,538.51 1213.58,537.49 1219.09,536.47 1224.59,535.46 1230.10,534.46 1235.60,533.48 1241.11,532.50 1246.61,531.53 1252.11,530.57 1257.62,529.62 1263.12,528.67 1268.63,527.74 1274.13,526.82 1279.64,525.90 1285.14,524.99 1290.65,524.09 1296.15,523.20 1301.66,522.32 1307.16,521.44 1312.67,520.58 1318.17,519.72 1323.68,518.86 1329.18,518.02 1334.69,517.18 1340.19,516.35 1345.70,515.53 1351.20,514.72 1356.71,513.91 1362.21,513.11 1367.72,512.31 1373.22,511.53 1378.73,510.75 1384.23,509.97 1389.74,509.21 1395.24,508.45 1400.74,507.69 1406.25,506.94 1411.75,506.20 1417.26,505.47 1422.76,504.74 1428.27,504.01 1433.77,503.30 1439.28,502.58 1444.78,501.88 1450.29,501.18 1455.79,500.48 1461.30,499.80 1466.80,499.11 1472.31,498.43 1477.81,497.76 1483.32,497.09 1488.82,496.43 1494.33,495.78 1499.83,495.12 1505.34,494.48 1510.84,493.84 1516.35,493.20 1521.85,492.57 1527.36,491.94 1532.86,491.32 1538.37,490.70 1543.87,490.09 1549.37,489.48 1554.88,488.88 1560.38,488.28 1565.89,487.69 1571.39,487.10 1576.90,486.51 1582.40,485.93 1587.91,485.35 1593.41,484.78 1598.92,484.21 1604.42,483.65 1609.93,483.09 1615.43,482.53 1620.94,481.98 1626.44,481.43 1631.95,480.89 1637.45,480.35 1642.96,479.81 1648.46,479.28 1653.97,478.75 1659.47,478.23 1664.98,477.70 1670.48,477.19 1675.99,476.67 1681.49,476.16 1687.00,475.66 1692.50,475.15 1698.00,474.65 1703.51,474.16 1709.01,473.66 1714.52,473.17 1720.02,472.69 1725.53,472.20 1731.03,471.72 1736.54,471.25 1742.04,470.77 1747.55,470.30 1753.05,469.83 1758.56,469.37 1764.06,468.91 1769.57,468.45 1775.07,468.00 1780.58,467.54 1786.08,467.10 1791.59,466.65 1797.09,466.21 1802.60,465.77 1808.10,465.33 1813.61,464.89 1819.11,464.46 1824.62,464.03 1830.12,463.61 1835.63,463.18 1841.13,462.76 1846.63,462.34 1852.14,461.93 1857.64,461.51 1863.15,461.10 1868.65,460.69 1874.16,460.29 1879.66,459.89 1885.17,459.48 1890.67,459.09 1896.18,458.69 1901.68,458.30 1907.19,457.91 1912.69,457.52 1918.20,457.13 1923.70,456.75 1929.21,456.37 1934.71,455.99 1940.22,455.61 1945.72,455.24 1951.23,454.86 1956.73,454.49 1962.24,454.13 1967.74,453.76 1973.25,453.40 1978.75,453.03 1984.26,452.68 1989.76,452.32 1995.26,451.96 2000.77,451.61 2006.27,451.26 2011.78,450.91 2017.28,450.56 2022.79,450.22 2028.29,449.87 2033.80,449.53 2039.30,449.19 2044.81,448.86 2050.31,448.52 2055.82,448.19 2061.32,447.86 2066.83,447.53 2072.33,447.20 2077.84,446.87 2083.34,446.55 2088.85,446.22 2094.35,445.90 2099.86,445.58 2105.36,445.27 2110.87,444.95 2116.37,444.64 2121.88,444.33 2127.38,444.02 2132.89,443.71 2138.39,443.40 2143.89,443.09 2149.40,442.79 2154.90,442.49 2160.41,442.19 2165.91,441.89 2171.42,441.59 2176.92,441.30 2182.43,441.00 2187.93,440.71 2193.44,440.42 2198.94,440.13 2204.45,439.84 2209.95,439.56 2215.46,439.27 2220.96,438.99 2226.47,438.71 2231.97,438.42 2237.48,438.15 2242.98,437.87 2248.49,437.59 2253.99,437.32 2259.50,437.04 2265.00,436.77 2270.51,436.50 2276.01,436.23 2281.52,435.96 2287.02,435.70 2292.52,435.43 2298.03,435.17 2303.53,434.91 2309.04,434.64 2314.54,434.38 2320.05,434.13 2325.55,433.87 2331.06,433.61 2336.56,433.36 2342.07,433.10 2347.57,432.85 2353.08,432.60 2358.58,432.35 2364.09,432.10 2369.59,431.86 2375.10,431.61 2380.60,431.36 2386.11,431.12 2391.61,430.88 2397.12,430.64 2402.62,430.40 2408.13,430.16 2413.63,429.92 2419.14,429.68 2424.64,429.45 2430.15,429.21 2435.65,428.98 2441.15,428.75 2446.66,428.51 2452.16,428.28 2457.67,428.06 2463.17,427.83 2468.68,427.60 2474.18,427.37 2479.69,427.15 2485.19,426.93 2490.70,426.70 2496.20,426.48 2501.71,426.26 2507.21,426.04 2512.72,425.82 2518.22,425.60 2523.73,425.39 2529.23,425.17 2534.74,424.96 2540.24,424.74 2545.75,424.53 2551.25,424.32 2556.76,424.11 2562.26,423.90 2567.77,423.69 2573.27,423.48 2578.78,423.27 2584.28,423.07 2589.78,422.86 2595.29,422.66 2600.79,422.45 2606.30,422.25 2611.80,422.05 2617.31,421.85 2622.81,421.65 2628.32,421.45 2633.82,421.25 2639.33,421.05 2644.83,420.86 2650.34,420.66 2655.84,420.47" fill="none" stroke="#0070C0" stroke-width="13" stroke-dasharray="22.4 26.69" stroke-dashoffset="43.03" stroke-linecap="round" stroke-linejoin="round"/>
</g>
<path d="M345.51,65.00 L345.51,1214.30 L2654.72,1214.30" fill="none" stroke="#000" stroke-width="12.3" stroke-linejoin="round"/>
<path d="M323.60,1215.00 L345.51,1215.00 M330.34,1100.17 L345.51,1100.17 M323.60,985.35 L345.51,985.35 M330.34,870.52 L345.51,870.52 M323.60,755.70 L345.51,755.70 M330.34,640.88 L345.51,640.88 M323.60,526.05 L345.51,526.05 M330.34,411.23 L345.51,411.23 M323.60,296.40 L345.51,296.40 M330.34,181.58 L345.51,181.58 M323.60,66.75 L345.51,66.75 M343.82,1214.30 L343.82,1239.00 M536.49,1214.30 L536.49,1232.60 M729.16,1214.30 L729.16,1239.00 M921.83,1214.30 L921.83,1232.60 M1114.49,1214.30 L1114.49,1239.00 M1307.16,1214.30 L1307.16,1232.60 M1499.83,1214.30 L1499.83,1239.00 M1692.50,1214.30 L1692.50,1232.60 M1885.17,1214.30 L1885.17,1239.00 M2077.84,1214.30 L2077.84,1232.60 M2270.51,1214.30 L2270.51,1239.00 M2463.17,1214.30 L2463.17,1232.60 M2655.84,1214.30 L2655.84,1239.00" fill="none" stroke="#000" stroke-width="12.5"/>
<path d="M346.74,1199.70 L365.74,1237.40 L327.74,1237.40 Z" fill="none" stroke="#0070C0" stroke-width="8.40" stroke-linejoin="miter" stroke-miterlimit="10"/>
<path d="M358.09,1141.70 L377.09,1179.40 L339.09,1179.40 Z" fill="none" stroke="#0070C0" stroke-width="8.40" stroke-linejoin="miter" stroke-miterlimit="10"/>
<path d="M357.30,1068.70 L376.30,1106.40 L338.30,1106.40 Z" fill="none" stroke="#0070C0" stroke-width="8.40" stroke-linejoin="miter" stroke-miterlimit="10"/>
<path d="M360.67,1082.70 L379.67,1120.40 L341.67,1120.40 Z" fill="none" stroke="#0070C0" stroke-width="8.40" stroke-linejoin="miter" stroke-miterlimit="10"/>
<path d="M419.10,920.70 L438.10,958.40 L400.10,958.40 Z" fill="none" stroke="#0070C0" stroke-width="8.40" stroke-linejoin="miter" stroke-miterlimit="10"/>
<path d="M425.84,928.70 L444.84,966.40 L406.84,966.40 Z" fill="none" stroke="#0070C0" stroke-width="8.40" stroke-linejoin="miter" stroke-miterlimit="10"/>
<path d="M432.58,934.70 L451.58,972.40 L413.58,972.40 Z" fill="none" stroke="#0070C0" stroke-width="8.40" stroke-linejoin="miter" stroke-miterlimit="10"/>
<path d="M531.46,744.70 L550.46,782.40 L512.46,782.40 Z" fill="none" stroke="#0070C0" stroke-width="8.40" stroke-linejoin="miter" stroke-miterlimit="10"/>
<path d="M547.75,746.70 L566.75,784.40 L528.75,784.40 Z" fill="none" stroke="#0070C0" stroke-width="8.40" stroke-linejoin="miter" stroke-miterlimit="10"/>
<path d="M530.34,763.70 L549.34,801.40 L511.34,801.40 Z" fill="none" stroke="#0070C0" stroke-width="8.40" stroke-linejoin="miter" stroke-miterlimit="10"/>
<path d="M690.45,605.70 L709.45,643.40 L671.45,643.40 Z" fill="none" stroke="#0070C0" stroke-width="8.40" stroke-linejoin="miter" stroke-miterlimit="10"/>
<path d="M692.13,624.70 L711.13,662.40 L673.13,662.40 Z" fill="none" stroke="#0070C0" stroke-width="8.40" stroke-linejoin="miter" stroke-miterlimit="10"/>
<path d="M700.56,637.70 L719.56,675.40 L681.56,675.40 Z" fill="none" stroke="#0070C0" stroke-width="8.40" stroke-linejoin="miter" stroke-miterlimit="10"/>
<path d="M832.58,502.70 L851.58,540.40 L813.58,540.40 Z" fill="none" stroke="#0070C0" stroke-width="8.40" stroke-linejoin="miter" stroke-miterlimit="10"/>
<path d="M835.96,524.70 L854.96,562.40 L816.96,562.40 Z" fill="none" stroke="#0070C0" stroke-width="8.40" stroke-linejoin="miter" stroke-miterlimit="10"/>
<path d="M1274.61,430.40 L1293.61,468.10 L1255.61,468.10 Z" fill="none" stroke="#0070C0" stroke-width="8.40" stroke-linejoin="miter" stroke-miterlimit="10"/>
<path d="M1310.90,413.20 L1329.90,450.90 L1291.90,450.90 Z" fill="none" stroke="#0070C0" stroke-width="8.40" stroke-linejoin="miter" stroke-miterlimit="10"/>
<path d="M1311.24,444.70 L1330.24,482.40 L1292.24,482.40 Z" fill="none" stroke="#0070C0" stroke-width="8.40" stroke-linejoin="miter" stroke-miterlimit="10"/>
<path d="M1408.65,399.70 L1427.65,437.40 L1389.65,437.40 Z" fill="none" stroke="#0070C0" stroke-width="8.40" stroke-linejoin="miter" stroke-miterlimit="10"/>
<path d="M1465.17,376.50 L1484.17,414.20 L1446.17,414.20 Z" fill="none" stroke="#0070C0" stroke-width="8.40" stroke-linejoin="miter" stroke-miterlimit="10"/>
<path d="M1485.96,414.40 L1504.96,452.10 L1466.96,452.10 Z" fill="none" stroke="#0070C0" stroke-width="8.40" stroke-linejoin="miter" stroke-miterlimit="10"/>
<path d="M1812.25,345.50 L1831.25,383.20 L1793.25,383.20 Z" fill="none" stroke="#0070C0" stroke-width="8.40" stroke-linejoin="miter" stroke-miterlimit="10"/>
<path d="M1867.19,371.30 L1886.19,409.00 L1848.19,409.00 Z" fill="none" stroke="#0070C0" stroke-width="8.40" stroke-linejoin="miter" stroke-miterlimit="10"/>
<path d="M1925.39,368.50 L1944.39,406.20 L1906.39,406.20 Z" fill="none" stroke="#0070C0" stroke-width="8.40" stroke-linejoin="miter" stroke-miterlimit="10"/>
<path d="M1974.38,350.60 L1993.38,388.30 L1955.38,388.30 Z" fill="none" stroke="#0070C0" stroke-width="8.40" stroke-linejoin="miter" stroke-miterlimit="10"/>
<path d="M2044.83,319.20 L2063.83,356.90 L2025.83,356.90 Z" fill="none" stroke="#0070C0" stroke-width="8.40" stroke-linejoin="miter" stroke-miterlimit="10"/>
<path d="M2106.52,347.40 L2125.52,385.10 L2087.52,385.10 Z" fill="none" stroke="#0070C0" stroke-width="8.40" stroke-linejoin="miter" stroke-miterlimit="10"/>
<circle cx="346.52" cy="1216.20" r="18.1" fill="none" stroke="#FF0000" stroke-width="8.5"/>
<circle cx="347.19" cy="1137.50" r="18.1" fill="none" stroke="#FF0000" stroke-width="8.5"/>
<circle cx="353.93" cy="1147.50" r="18.1" fill="none" stroke="#FF0000" stroke-width="8.5"/>
<circle cx="349.44" cy="1043.00" r="18.1" fill="none" stroke="#FF0000" stroke-width="8.5"/>
<circle cx="350.56" cy="1049.00" r="18.1" fill="none" stroke="#FF0000" stroke-width="8.5"/>
<circle cx="351.69" cy="1055.00" r="18.1" fill="none" stroke="#FF0000" stroke-width="8.5"/>
<circle cx="352.81" cy="1061.00" r="18.1" fill="none" stroke="#FF0000" stroke-width="8.5"/>
<circle cx="355.06" cy="1067.00" r="18.1" fill="none" stroke="#FF0000" stroke-width="8.5"/>
<circle cx="363.48" cy="829.00" r="18.1" fill="none" stroke="#FF0000" stroke-width="8.5"/>
<circle cx="364.61" cy="840.00" r="18.1" fill="none" stroke="#FF0000" stroke-width="8.5"/>
<circle cx="365.73" cy="853.50" r="18.1" fill="none" stroke="#FF0000" stroke-width="8.5"/>
<circle cx="472.47" cy="625.60" r="18.1" fill="none" stroke="#FF0000" stroke-width="8.5"/>
<circle cx="470.22" cy="668.00" r="18.1" fill="none" stroke="#FF0000" stroke-width="8.5"/>
<circle cx="484.83" cy="688.00" r="18.1" fill="none" stroke="#FF0000" stroke-width="8.5"/>
<circle cx="578.65" cy="439.00" r="18.1" fill="none" stroke="#FF0000" stroke-width="8.5"/>
<circle cx="591.57" cy="444.00" r="18.1" fill="none" stroke="#FF0000" stroke-width="8.5"/>
<circle cx="592.70" cy="467.00" r="18.1" fill="none" stroke="#FF0000" stroke-width="8.5"/>
<circle cx="706.74" cy="315.00" r="18.1" fill="none" stroke="#FF0000" stroke-width="8.5"/>
<circle cx="714.61" cy="322.00" r="18.1" fill="none" stroke="#FF0000" stroke-width="8.5"/>
<circle cx="727.75" cy="334.20" r="18.1" fill="none" stroke="#FF0000" stroke-width="8.5"/>
<circle cx="1179.33" cy="287.50" r="18.1" fill="none" stroke="#FF0000" stroke-width="8.5"/>
<circle cx="1188.76" cy="244.00" r="18.1" fill="none" stroke="#FF0000" stroke-width="8.5"/>
<circle cx="1196.63" cy="236.00" r="18.1" fill="none" stroke="#FF0000" stroke-width="8.5"/>
<circle cx="1204.49" cy="229.70" r="18.1" fill="none" stroke="#FF0000" stroke-width="8.5"/>
<circle cx="1320.22" cy="265.70" r="18.1" fill="none" stroke="#FF0000" stroke-width="8.5"/>
<circle cx="1353.71" cy="193.70" r="18.1" fill="none" stroke="#FF0000" stroke-width="8.5"/>
<circle cx="1372.58" cy="229.10" r="18.1" fill="none" stroke="#FF0000" stroke-width="8.5"/>
<circle cx="1716.52" cy="193.30" r="18.1" fill="none" stroke="#FF0000" stroke-width="8.5"/>
<circle cx="1756.40" cy="196.60" r="18.1" fill="none" stroke="#FF0000" stroke-width="8.5"/>
<circle cx="1793.15" cy="144.30" r="18.1" fill="none" stroke="#FF0000" stroke-width="8.5"/>
<circle cx="1860.90" cy="166.10" r="18.1" fill="none" stroke="#FF0000" stroke-width="8.5"/>
<circle cx="1934.61" cy="141.00" r="18.1" fill="none" stroke="#FF0000" stroke-width="8.5"/>
<circle cx="1965.17" cy="113.10" r="18.1" fill="none" stroke="#FF0000" stroke-width="8.5"/>
<path d="M853.37,1096.2 L853.37,866" fill="none" stroke="#000" stroke-width="15.3" stroke-dasharray="15.8 15"/>
<path d="M853.37,821.2 L830.87,865.8 L875.87,865.8 Z" fill="#000"/>
<path d="M2513.48,436.2 L2513.48,512" fill="none" stroke="#000" stroke-width="12.4" stroke-dasharray="36.3 13.7"/>
<path d="M2513.48,547.8 L2494.98,510 L2531.98,510 Z" fill="#000"/>
<rect x="1214.04" y="707.5" width="1373.03" height="274" rx="4" fill="#fff" stroke="#000" stroke-width="11.3"/>
<path d="M1366.29,740.47 L1383.58,774.77 L1349.00,774.77 Z" fill="none" stroke="#0070C0" stroke-width="7.64" stroke-linejoin="miter" stroke-miterlimit="10"/>
<circle cx="2052.70" cy="757.20" r="18.1" fill="none" stroke="#FF0000" stroke-width="8.5"/>
<circle cx="1285.17" cy="846.8" r="8.6" fill="#0070C0"/>
<circle cx="1321.80" cy="846.8" r="8.6" fill="#0070C0"/>
<circle cx="1358.43" cy="846.8" r="8.6" fill="#0070C0"/>
<circle cx="1395.73" cy="846.8" r="8.6" fill="#0070C0"/>
<circle cx="1432.36" cy="846.8" r="8.6" fill="#0070C0"/>
<circle cx="1972.58" cy="846.5" r="8.6" fill="#FF0000"/>
<circle cx="2010.34" cy="846.5" r="8.6" fill="#FF0000"/>
<circle cx="2047.30" cy="846.5" r="8.6" fill="#FF0000"/>
<circle cx="2084.04" cy="846.5" r="8.6" fill="#FF0000"/>
<circle cx="2120.22" cy="846.5" r="8.6" fill="#FF0000"/>
<path d="M1285.39,936.2 L1308.20,936.2" stroke="#0070C0" stroke-width="13" stroke-linecap="round"/>
<path d="M1334.72,936.2 L1357.53,936.2" stroke="#0070C0" stroke-width="13" stroke-linecap="round"/>
<path d="M1384.04,936.2 L1406.85,936.2" stroke="#0070C0" stroke-width="13" stroke-linecap="round"/>
<path d="M1433.37,936.2 L1446.85,936.2" stroke="#0070C0" stroke-width="13" stroke-linecap="round"/>
<path d="M1973.71,936.5 L1988.99,936.5" stroke="#FF0000" stroke-width="13" stroke-linecap="round"/>
<path d="M2023.15,936.5 L2045.17,936.5" stroke="#FF0000" stroke-width="13" stroke-linecap="round"/>
<path d="M2072.25,936.5 L2094.27,936.5" stroke="#FF0000" stroke-width="13" stroke-linecap="round"/>
<path d="M2120.79,936.5 L2132.02,936.5" stroke="#FF0000" stroke-width="13" stroke-linecap="round"/>
</g>
<text transform="translate(164.97,90.05) scale(0.8766,1)" font-size="80" style="font-weight:bold">2.5</text>
<text transform="translate(214.17,319.70) scale(0.8765,1)" font-size="80" style="font-weight:bold">2</text>
<text transform="translate(165.21,549.35) scale(0.8813,1)" font-size="80" style="font-weight:bold">1.5</text>
<text transform="translate(214.78,779.00) scale(0.8533,1)" font-size="80" style="font-weight:bold">1</text>
<text transform="translate(165.88,1008.65) scale(0.8745,1)" font-size="80" style="font-weight:bold">0.5</text>
<text transform="translate(214.26,1238.30) scale(0.9118,1)" font-size="80" style="font-weight:bold">0</text>
<text transform="translate(291.14,1328.60) scale(0.8882,1)" font-size="80" style="font-weight:bold">0</text>
<text transform="translate(632.08,1328.60) scale(0.8700,1)" font-size="80" style="font-weight:bold">1</text>
<text transform="translate(973.77,1328.60) scale(0.8765,1)" font-size="80" style="font-weight:bold">2</text>
<text transform="translate(1317.26,1328.60) scale(0.9118,1)" font-size="80" style="font-weight:bold">3</text>
<text transform="translate(1660.88,1328.60) scale(0.8237,1)" font-size="80" style="font-weight:bold">4</text>
<text transform="translate(2002.81,1328.60) scale(0.8971,1)" font-size="80" style="font-weight:bold">5</text>
<text transform="translate(2345.90,1328.60) scale(0.9000,1)" font-size="80" style="font-weight:bold">6</text>
<text transform="translate(1303.04,772.40) scale(0.8638,1)" font-size="70" style="font-weight:bold">SA*PEI 20°C</text>
<text transform="translate(1913.06,772.40) scale(0.8598,1)" font-size="70" style="font-weight:bold">SA*PEI 50°C</text>
<text transform="translate(1303.03,865.30) scale(0.8665,1)" font-size="70" style="font-weight:bold">Site 1</text>
<text transform="translate(1913.03,865.30) scale(0.8665,1)" font-size="70" style="font-weight:bold">Site 1</text>
<text transform="translate(1303.01,957.40) scale(0.8715,1)" font-size="70" style="font-weight:bold">Site 2</text>
<text transform="translate(1913.03,957.40) scale(0.8665,1)" font-size="70" style="font-weight:bold">Site 2</text>
<text transform="translate(1063.73,1405.60) scale(0.9167,1)" font-size="80" style="font-weight:bold">C</text>
<text transform="translate(1112.95,1421.30) scale(1.0238,1)" font-size="48" style="font-weight:normal">eq</text>
<text transform="translate(1176.46,1405.60) scale(0.8607,1)" font-size="80" style="font-weight:bold">(mmol Sr L</text>
<text transform="translate(1512.86,1381.00) scale(1.0146,1)" font-size="50" style="font-weight:bold">−1</text>
<text transform="translate(1565.31,1405.60) scale(0.9300,1)" font-size="80" style="font-weight:bold">)</text>
<text transform="translate(85.80,884.86) rotate(-90) scale(0.9200,0.89)" font-size="78" style="font-weight:bold">q</text>
<text transform="translate(100.00,839.77) rotate(-90) scale(1.1833,0.89)" font-size="48" style="font-weight:normal">eq</text>
<text transform="translate(85.80,769.88) rotate(-90) scale(0.9946,0.89)" font-size="78" style="font-weight:bold">(mmol Sr g</text>
<text transform="translate(65.30,400.86) rotate(-90) scale(1.1187,0.89)" font-size="50" style="font-weight:bold">−1</text>
<text transform="translate(85.80,340.50) rotate(-90) scale(1.0000,0.89)" font-size="78" style="font-weight:bold">)</text>
</svg></body></html>
